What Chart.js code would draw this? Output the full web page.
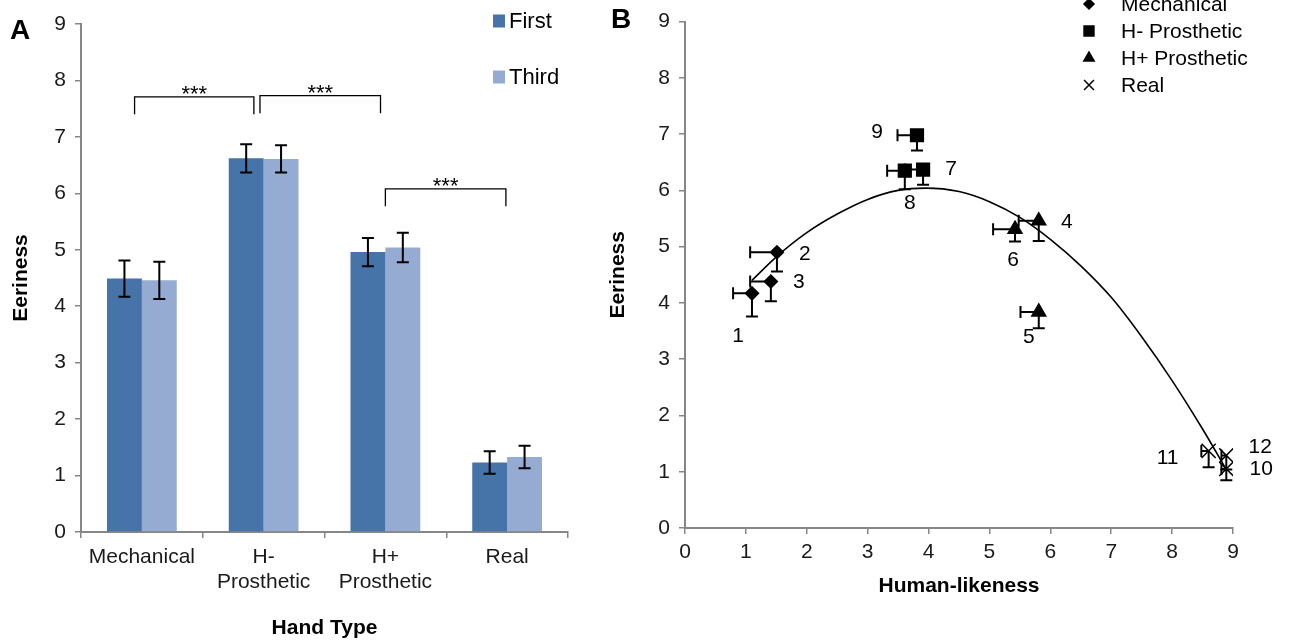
<!DOCTYPE html>
<html>
<head>
<meta charset="utf-8">
<script src="https://cdn.jsdelivr.net/npm/chart.js@4.4.1/dist/chart.umd.min.js"></script>
<style>
  body { margin: 0; background: #fff; }
  #wrap { position: relative; width: 1291px; height: 643px; overflow: hidden; }
  canvas { position: absolute; top: 0; }
  #graficoA { left: 0; }
  #graficoB { left: 600px; }
  .painel { position: absolute; font: bold 28px 'Liberation Sans', Arial, sans-serif; color: #000; }
</style>
</head>
<body>
<div id="wrap">
  <canvas id="graficoA" width="600" height="643"></canvas>
  <canvas id="graficoB" width="691" height="643"></canvas>
  <div class="painel" style="left:10px; top:14px;">A</div>
  <div class="painel" style="left:611px; top:3px;">B</div>
</div>
<script>
// painel A: barras por tipo de mao
const categorias = ['Mechanical', ['H-', 'Prosthetic'], ['H+', 'Prosthetic'], 'Real'];
const primeira = [4.49, 6.62, 4.96, 1.23];
const terceira = [4.46, 6.61, 5.04, 1.33];
const erroPrimeira = [0.32, 0.25, 0.25, 0.20];
const erroTerceira = [0.33, 0.24, 0.26, 0.20];

const chaveInicio = [-0.06, 0.97, 2.0];
const chaveFim = [0.92, 1.96, 2.99];
const chaveTopo = [7.71, 7.73, 6.08];
const chavePerna = [7.40, 7.42, 5.77];
const chaveTexto = ['***', '***', '***'];

// painel B: dispersao
const rotulos = ['1', '2', '3', '4', '5', '6', '7', '8', '9', '10', '11', '12'];
const grupos = ['Mechanical', 'Mechanical', 'Mechanical', 'H+ Prosthetic', 'H+ Prosthetic', 'H+ Prosthetic',
  'H- Prosthetic', 'H- Prosthetic', 'H- Prosthetic', 'Real', 'Real', 'Real'];
const humanLikeness = [1.10, 1.51, 1.41, 5.81, 5.81, 5.42, 3.91, 3.61, 3.81, 8.89, 8.60, 8.89];
const eeriness = [4.17, 4.90, 4.38, 5.46, 3.84, 5.31, 6.37, 6.35, 6.98, 1.05, 1.37, 1.29];
const erroHumano = [0.31, 0.44, 0.34, 0.33, 0.30, 0.36, 0.30, 0.29, 0.32, 0.08, 0.12, 0.08];
const erroEeriness = [0.41, 0.34, 0.35, 0.36, 0.29, 0.22, 0.27, 0.33, 0.27, 0.20, 0.29, 0.25];

// linha de tendencia
const curvaX = [1.1, 1.5, 2.0, 2.5, 3.0, 3.5, 3.95, 4.5, 5.0, 5.5, 6.0, 6.5, 7.0, 7.5, 8.0, 8.5, 8.9];
const curvaY = [4.40, 4.82, 5.25, 5.58, 5.84, 6.00, 6.04, 5.98, 5.80, 5.52, 5.13, 4.66, 4.10, 3.40, 2.62, 1.76, 1.02];

// deslocamento (px) de cada numero em relacao ao marcador
const deslocRotulo = [[-14, 43], [28, 2], [28, 1], [28, 1], [-10, 25], [-2, 31], [28, 0], [5, 32], [-40, -3], [35, 0], [-41, 7], [34, -8]];

const estilos = {
  'Mechanical': { pointStyle: 'rectRot', radius: 6.5, legenda: 5 },
  'H- Prosthetic': { pointStyle: 'rect', radius: 9, legenda: 7 },
  'H+ Prosthetic': { pointStyle: 'triangle', radius: 8, legenda: 6 },
  'Real': { pointStyle: 'crossRot', radius: 10, legenda: 7 }
};
const ordemLegenda = ['Mechanical', 'H- Prosthetic', 'H+ Prosthetic', 'Real'];

const CINZA = '#868686';
const FONTE = "'Liberation Sans', Arial, sans-serif";
Chart.defaults.font.family = FONTE;
Chart.defaults.color = '#1a1a1a';
Chart.defaults.animation = false;

const barrasErroA = {
  id: 'barrasErroA',
  afterDatasetsDraw(chart) {
    const { ctx, scales: { x, y } } = chart;
    ctx.save();
    ctx.strokeStyle = '#000';
    ctx.lineWidth = 2;
    [erroPrimeira, erroTerceira].forEach((erros, d) => {
      const valores = chart.data.datasets[d].data;
      chart.getDatasetMeta(d).data.forEach((barra, i) => {
        const topo = y.getPixelForValue(valores[i] + erros[i]);
        const base = y.getPixelForValue(valores[i] - erros[i]);
        ctx.beginPath();
        ctx.moveTo(barra.x, topo); ctx.lineTo(barra.x, base);
        ctx.moveTo(barra.x - 6, topo); ctx.lineTo(barra.x + 6, topo);
        ctx.moveTo(barra.x - 6, base); ctx.lineTo(barra.x + 6, base);
        ctx.stroke();
      });
    });

    // chaves de significancia
    const passo = x.getPixelForValue(1) - x.getPixelForValue(0);
    const x0 = x.getPixelForValue(0);
    ctx.lineWidth = 1.3;
    ctx.fillStyle = '#000';
    ctx.font = `22px ${FONTE}`;
    ctx.textAlign = 'center';
    ctx.textBaseline = 'alphabetic';
    chaveTopo.forEach((topo, i) => {
      const xa = x0 + chaveInicio[i] * passo;
      const xb = x0 + chaveFim[i] * passo;
      const yt = y.getPixelForValue(topo);
      const yp = y.getPixelForValue(chavePerna[i]);
      ctx.beginPath();
      ctx.moveTo(xa, yp); ctx.lineTo(xa, yt); ctx.lineTo(xb, yt); ctx.lineTo(xb, yp);
      ctx.stroke();
      ctx.fillText(chaveTexto[i], (xa + xb) / 2, yt + 4);
    });

    // legenda
    ctx.font = `22px ${FONTE}`;
    ctx.textAlign = 'left';
    ctx.textBaseline = 'middle';
    chart.data.datasets.forEach((ds, d) => {
      const cy = 21 + d * 56;
      ctx.fillStyle = ds.backgroundColor;
      ctx.fillRect(493, cy - 6.5, 12, 13);
      ctx.fillStyle = '#000';
      ctx.fillText(ds.label, 509, cy + 1);
    });
    ctx.restore();
  }
};

new Chart(document.getElementById('graficoA'), {
  type: 'bar',
  data: {
    labels: categorias,
    datasets: [
      { label: 'First', data: primeira, backgroundColor: '#4674a8' },
      { label: 'Third', data: terceira, backgroundColor: '#95abd1' }
    ]
  },
  options: {
    responsive: false,
    devicePixelRatio: 1,
    categoryPercentage: 0.573,
    barPercentage: 1,
    layout: { padding: { top: 24, right: 32, left: 0, bottom: 0 } },
    plugins: { legend: { display: false }, tooltip: { enabled: false } },
    scales: {
      x: {
        grid: { drawOnChartArea: false, drawTicks: true, tickLength: 6, color: CINZA, lineWidth: 1.5, offset: true },
        border: { color: CINZA, width: 2 },
        ticks: { color: '#1a1a1a', font: { size: 21, lineHeight: 1.22 }, padding: 6, maxRotation: 0, autoSkip: false },
        title: { display: true, text: 'Hand Type', color: '#000', font: { size: 21, weight: 'bold' }, padding: { top: 0, bottom: 2 } },
        afterFit: (escala) => { escala.height = 111; }
      },
      y: {
        min: 0,
        max: 9,
        grid: { drawOnChartArea: false, drawTicks: true, tickLength: 6, color: CINZA, lineWidth: 1.5 },
        border: { color: CINZA, width: 2 },
        ticks: { stepSize: 1, color: '#1a1a1a', font: { size: 21 }, padding: 9 },
        title: { display: true, text: 'Eeriness', color: '#000', font: { size: 21, weight: 'bold' }, padding: { top: 9, bottom: 0 } },
        afterFit: (escala) => { escala.width = 81; }
      }
    }
  },
  plugins: [barrasErroA]
});

const extrasB = {
  id: 'extrasB',
  beforeDatasetsDraw(chart) {
    const { ctx, scales: { x, y } } = chart;
    ctx.save();
    ctx.strokeStyle = '#000';
    ctx.lineWidth = 2;
    humanLikeness.forEach((hx, i) => {
      const px = x.getPixelForValue(hx);
      const py = y.getPixelForValue(eeriness[i]);
      const esq = x.getPixelForValue(hx - erroHumano[i]);
      const baixo = y.getPixelForValue(eeriness[i] - erroEeriness[i]);
      ctx.beginPath();
      ctx.moveTo(esq, py); ctx.lineTo(px, py);
      ctx.moveTo(esq, py - 6); ctx.lineTo(esq, py + 6);
      ctx.moveTo(px, py); ctx.lineTo(px, baixo);
      ctx.moveTo(px - 6, baixo); ctx.lineTo(px + 6, baixo);
      ctx.stroke();
    });
    ctx.restore();
  },
  afterDatasetsDraw(chart) {
    const { ctx, scales: { x, y } } = chart;
    ctx.save();
    ctx.fillStyle = '#000';
    ctx.font = `21px ${FONTE}`;
    ctx.textAlign = 'center';
    ctx.textBaseline = 'middle';
    rotulos.forEach((txt, i) => {
      const px = x.getPixelForValue(humanLikeness[i]) + deslocRotulo[i][0];
      const py = y.getPixelForValue(eeriness[i]) + deslocRotulo[i][1];
      ctx.fillText(txt, px, py);
    });

    // legenda
    ctx.textAlign = 'left';
    ordemLegenda.forEach((nome, k) => {
      const cy = 4 + k * 27;
      const est = estilos[nome];
      ctx.fillStyle = '#000';
      ctx.strokeStyle = '#000';
      ctx.lineWidth = 1.5;
      Chart.helpers.drawPoint(ctx, {
        pointStyle: est.pointStyle, radius: est.legenda, borderWidth: 1.5, rotation: 0
      }, 489, cy);
      ctx.fillText(nome, 521, cy + 1);
    });
    ctx.restore();
  }
};

const datasetsB = ordemLegenda.map((nome) => {
  const idx = grupos.map((g, i) => (g === nome ? i : -1)).filter((i) => i >= 0);
  return {
    label: nome,
    data: idx.map((i) => ({ x: humanLikeness[i], y: eeriness[i] })),
    pointStyle: estilos[nome].pointStyle,
    pointRadius: estilos[nome].radius,
    backgroundColor: '#000',
    borderColor: '#000',
    borderWidth: 1.5,
    order: 1
  };
});
datasetsB.push({
  label: 'curva',
  data: curvaX.map((cx, i) => ({ x: cx, y: curvaY[i] })),
  showLine: true,
  borderColor: '#000',
  borderWidth: 1.6,
  pointRadius: 0,
  cubicInterpolationMode: 'monotone',
  order: 5
});

new Chart(document.getElementById('graficoB'), {
  type: 'scatter',
  data: { datasets: datasetsB },
  options: {
    responsive: false,
    devicePixelRatio: 1,
    layout: { padding: { top: 7, right: 58, left: 0, bottom: 0 } },
    plugins: { legend: { display: false }, tooltip: { enabled: false } },
    scales: {
      x: {
        min: 0,
        max: 9,
        grid: { drawOnChartArea: false, drawTicks: true, tickLength: 6, color: CINZA, lineWidth: 1.5 },
        border: { color: CINZA, width: 2 },
        ticks: { stepSize: 1, color: '#1a1a1a', font: { size: 21 }, padding: 6, maxRotation: 0 },
        title: { display: true, text: 'Human-likeness', color: '#000', font: { size: 21, weight: 'bold' }, padding: { top: 0, bottom: 44 } },
        afterFit: (escala) => { escala.height = 115; }
      },
      y: {
        min: 0,
        max: 9,
        grid: { drawOnChartArea: false, drawTicks: true, tickLength: 6, color: CINZA, lineWidth: 1.5 },
        border: { color: CINZA, width: 2 },
        ticks: { stepSize: 1, color: '#1a1a1a', font: { size: 21 }, padding: 9 },
        title: { display: true, text: 'Eeriness', color: '#000', font: { size: 21, weight: 'bold' }, padding: { top: 6, bottom: 0 } },
        afterFit: (escala) => { escala.width = 85; }
      }
    }
  },
  plugins: [extrasB]
});
</script>
</body>
</html>
